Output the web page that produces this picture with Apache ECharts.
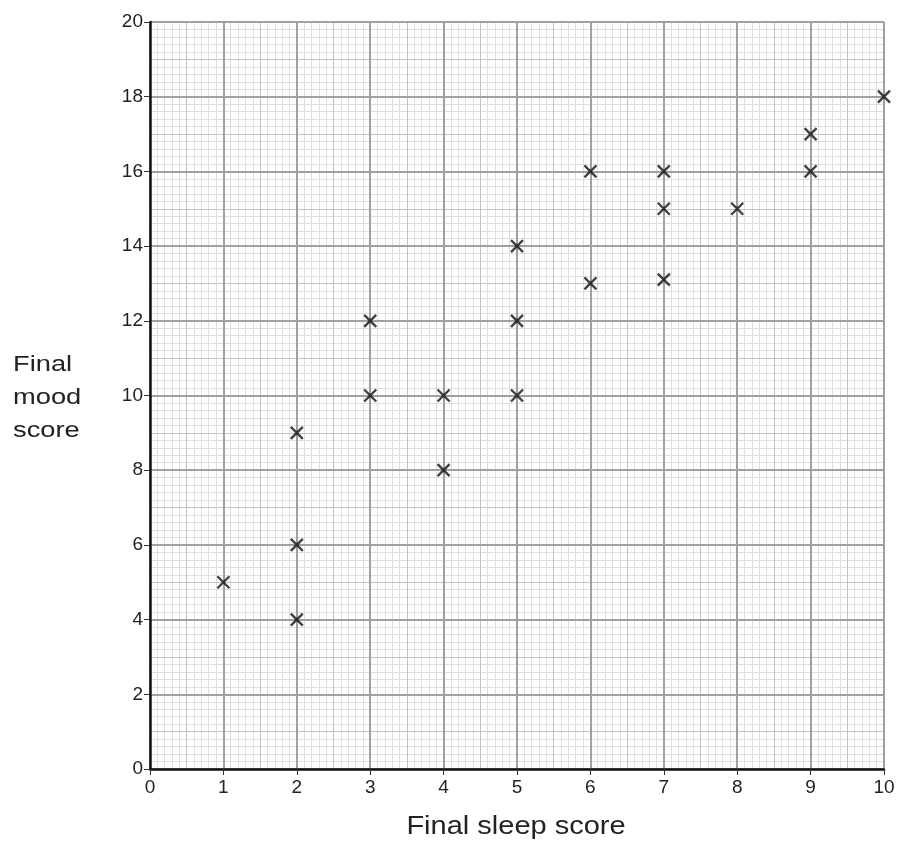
<!DOCTYPE html>
<html>
<head>
<meta charset="utf-8">
<script src="https://cdn.jsdelivr.net/npm/echarts@6/dist/echarts.min.js"></script>
<style>html,body{margin:0;padding:0;background:#fff}#c{width:899px;height:842px}</style>
</head>
<body>
<div id="c"></div>
<script>
var sleepScore = [1, 2, 2, 2, 3, 3, 4, 4, 5, 5, 5, 6, 6, 7, 7, 7, 8, 9, 9, 10];
var moodScore  = [5, 4, 6, 9, 10, 12, 8, 10, 10, 12, 14, 13, 16, 13.1, 15, 16, 15, 16, 17, 18];
var xTicks = [0,1,2,3,4,5,6,7,8,9,10];
var yTicks = [0,2,4,6,8,10,12,14,16,18,20];
var xTitle = 'Final sleep score';
var yTitle = 'Final\nmood\nscore';

var chart = echarts.init(document.getElementById('c'), null, {renderer: 'canvas'});
var FONT = 'Liberation Sans, Arial, sans-serif';
function hiddenAxis(type, interval, z, color, width) {
  return {
    type: 'value', min: 0, max: type === 'x' ? 10 : 20, interval: interval, z: z,
    position: type === 'x' ? 'bottom' : 'left',
    axisLine: {show: false}, axisTick: {show: false}, axisLabel: {show: false},
    splitLine: {show: true, lineStyle: {color: color, width: width}}
  };
}
var option = {
  animation: false,
  backgroundColor: '#fff',
  grid: {left: 150, right: 15, top: 22, bottom: 73, containLabel: false, outerBoundsMode: 'none'},
  xAxis: [
    hiddenAxis('x', 0.1, 0, '#dedede', 1),
    hiddenAxis('x', 0.5, 1, '#c2c2c2', 1),
    {
      type: 'value', min: 0, max: 10, interval: 1, z: 2, position: 'bottom',
      axisLine: {show: true, onZero: false, lineStyle: {color: '#111', width: 2.5}},
      axisTick: {show: true, length: 6, lineStyle: {color: '#333', width: 1}},
      axisLabel: {fontFamily: FONT, fontSize: 19, color: '#222', margin: 9,
        formatter: function(v){ return xTicks.indexOf(v) >= 0 ? String(v) : ''; }},
      splitLine: {show: true, lineStyle: {color: '#a0a0a0', width: 2}}
    }
  ],
  yAxis: [
    hiddenAxis('y', 0.2, 0, '#dedede', 1),
    hiddenAxis('y', 1, 1, '#c2c2c2', 1),
    {
      type: 'value', min: 0, max: 20, interval: 2, z: 2, position: 'left',
      axisLine: {show: true, onZero: false, lineStyle: {color: '#111', width: 2.5}},
      axisTick: {show: true, length: 6, lineStyle: {color: '#333', width: 1}},
      axisLabel: {fontFamily: FONT, fontSize: 19, color: '#222', margin: 7,
        formatter: function(v){ return yTicks.indexOf(v) >= 0 ? String(v) : ''; }},
      splitLine: {show: true, lineStyle: {color: '#a0a0a0', width: 2}}
    }
  ],
  graphic: [{
    type: 'text', x: 13, y: 348, scaleX: 1.24, z: 10,
    style: {text: yTitle, x: 0, y: 0, fontFamily: FONT, fontSize: 22, lineHeight: 33, fill: '#222', align: 'left', verticalAlign: 'top'}
  }, {
    type: 'text', x: 516, y: 827, scaleX: 1.16, z: 10,
    style: {text: xTitle, x: 0, y: 0, fontFamily: FONT, fontSize: 25, fill: '#222', align: 'center', verticalAlign: 'middle'}
  }],
  series: [{
    type: 'scatter', xAxisIndex: 2, yAxisIndex: 2, z: 5,
    data: sleepScore.map(function(x, i){ return [x, moodScore[i]]; }),
    symbol: 'path://M0,0L10,10M10,0L0,10',
    symbolSize: 12,
    itemStyle: {color: 'none', borderColor: '#111', borderWidth: 2.4},
    emphasis: {disabled: true}
  }]
};
chart.setOption(option);
</script>
</body>
</html>
